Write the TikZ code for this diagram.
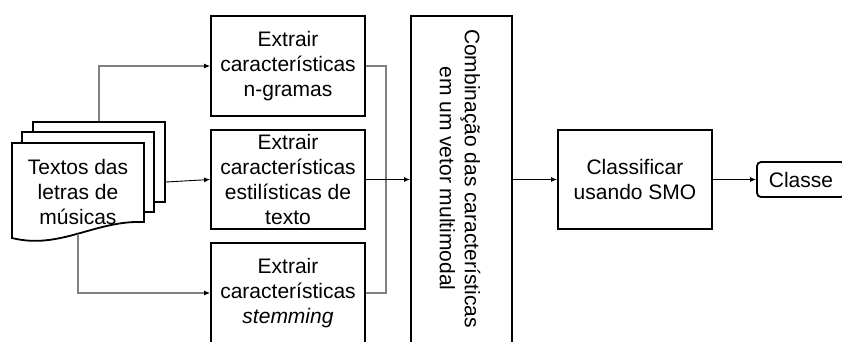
\documentclass[tikz,border=0pt]{standalone}
\usepackage{fontspec}
\setmainfont{Liberation Sans}
\usetikzlibrary{arrows.meta,calc}
\definecolor{linkgray}{RGB}{128,128,128}
\begin{document}
\begin{tikzpicture}[x=1pt,y=-1pt,
  txt/.style={font=\fontsize{21}{25}\selectfont, align=center},
  stepbox/.style={draw, line width=1.8pt, fill=white, txt, inner sep=0pt},
  page/.style={draw, line width=1.8pt, fill=white, minimum width=132pt, minimum height=80pt, inner sep=0pt},
  flow/.style={line width=0.9pt, -{Latex[length=6pt,width=5pt]}},
  side/.style={line width=1.1pt, draw=linkgray, -{Latex[length=6pt,width=5pt,fill=black,color=black]}},
  sideplain/.style={line width=1.1pt, draw=linkgray}]
\useasboundingbox (0,0) rectangle (842,341);

% stacked pages of lyrics
\node[page] (doc3) at (99,162) {};
\node[page] (doc2) at (88,172) {};
\draw[line width=1.8pt, fill=white, line join=miter]
  (12,143) -- (144,143) -- (144,222)
  .. controls (95,220) and (60,250) .. (12,238) -- cycle;
\node[txt] (doc1) at (78,191.5) {Textos das\\letras de\\músicas};
\coordinate (docb) at (78,234);

% feature extraction steps
\node[stepbox, minimum width=154pt, minimum height=100pt] (ngram) at (288,66)
  {Extrair\\características\\n-gramas};
\node[stepbox, minimum width=154pt, minimum height=99pt] (style) at (288,179.5)
  {Extrair\\características\\estilísticas de\\texto};
\node[stepbox, minimum width=154pt, minimum height=100pt] (stem) at (288,293)
  {Extrair\\características\\\textit{stemming}};

% combination, classifier and result
\node[stepbox, minimum width=101pt, minimum height=327pt] (comb) at (461.5,179.5) {};
\node[txt, rotate=-90] at (460,178.5) {Combinação das características\\em um vetor multimodal};
\node[stepbox, minimum width=154pt, minimum height=99pt] (smo) at (635,179.5)
  {Classificar\\usando SMO};
\node[stepbox, rounded corners=4pt, minimum width=88pt, minimum height=35pt] (cls) at (801,179.5)
  {Classe};

% connectors
\draw[side] (doc3.north) |- (ngram.west);
\draw[flow] ([yshift=-20pt]doc3.east) -- (style.west);
\draw[side] (docb) |- (stem.west);
\coordinate (bus) at (386,179.5);
\draw[sideplain] (ngram.east) -| (bus) |- (stem.east);
\draw[flow] (style.east) -- (comb.west);
\draw[flow] (comb.east) -- (smo.west);
\draw[flow] (smo.east) -- (cls.west);
\end{tikzpicture}
\end{document}
